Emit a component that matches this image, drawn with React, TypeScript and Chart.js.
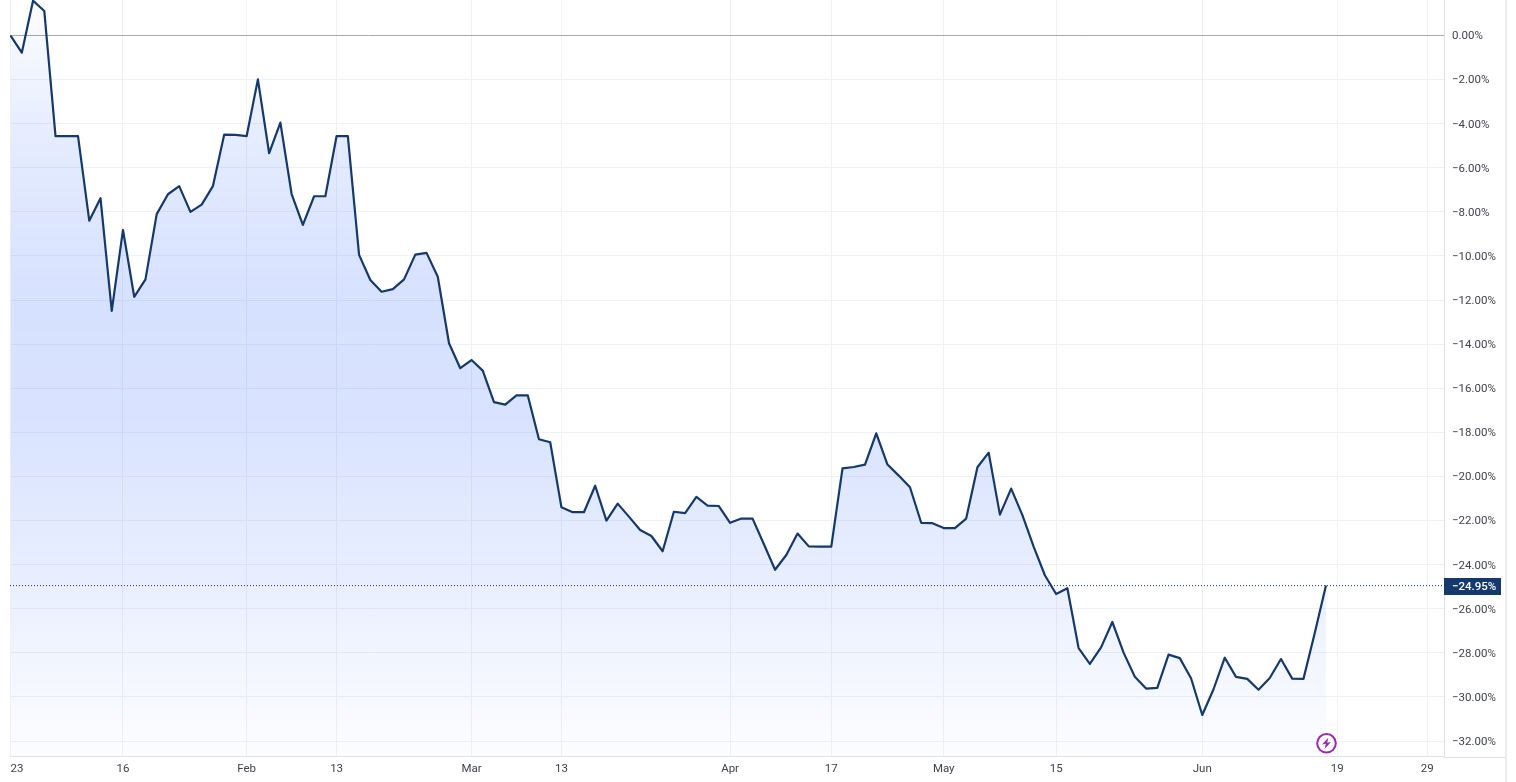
import React, { useEffect, useRef } from "react";
import { Chart, registerables } from "chart.js";

Chart.register(...registerables);

const returnsPct = [
  0, -0.78, 1.58, 1.11, -4.56, -4.56, -4.56, -8.4, -7.38, -12.49,
  -8.82, -11.85, -11.06, -8.1, -7.2, -6.83, -8.0, -7.67, -6.83, -4.5,
  -4.51, -4.56, -1.99, -5.34, -3.95, -7.19, -8.59, -7.29, -7.29, -4.56,
  -4.56, -9.95, -11.09, -11.62, -11.5, -11.06, -9.94, -9.86, -10.94, -13.96,
  -15.09, -14.72, -15.2, -16.63, -16.74, -16.32, -16.32, -18.31, -18.45, -21.4,
  -21.62, -21.62, -20.42, -22.0, -21.23, -21.82, -22.43, -22.7, -23.39, -21.6,
  -21.66, -20.93, -21.32, -21.34, -22.1, -21.91, -21.91, -23.06, -24.23, -23.56,
  -22.59, -23.17, -23.18, -23.18, -19.63, -19.57, -19.46, -18.04, -19.46, -19.96,
  -20.49, -22.1, -22.12, -22.34, -22.34, -21.91, -19.58, -18.92, -21.73, -20.55,
  -21.75, -23.18, -24.48, -25.33, -25.07, -27.78, -28.5, -27.75, -26.6, -27.99,
  -29.08, -29.62, -29.59, -28.08, -28.24, -29.15, -30.82, -29.65, -28.22, -29.09,
  -29.18, -29.67, -29.14, -28.28, -29.17, -29.18, -27.11, -24.95,
];

const xTickIndex = [0, 10, 21, 29, 41, 49, 64, 73, 83, 93, 106, 118, 126, 127.5];
const xTickLabels = ["23", "16", "Feb", "13", "Mar", "13", "Apr", "17", "May", "15", "Jun", "19", "29", ""];
const yTicks = [0, -2, -4, -6, -8, -10, -12, -14, -16, -18, -20, -22, -24, -26, -28, -30, -32];
const lastValue = -24.95;
const eventMarker = { x: 117.05, y: -32.1 };

const FONT = "Roboto, 'Open Sans', sans-serif";
const NAVY = "#13396f";
const GRID = "#f0f1f5";
const AXIS = "#e0e1e6";
const TEXT = "#3f424c";

const fmt = (v: number) => `${v < 0 ? "\u2212" : ""}${Math.abs(v).toFixed(2)}%`;

const overlay = {
  id: "overlay",
  afterDatasetsDraw(chart: any) {
    const { ctx, scales, chartArea, width } = chart;
    const y = scales.y.getPixelForValue(lastValue);
    ctx.save();
    // outer frame of the price axis
    ctx.fillStyle = "#ececef";
    ctx.fillRect(width - 11, 0, 2, chart.height);
    ctx.fillStyle = AXIS;
    ctx.fillRect(chartArea.right, Math.round(chartArea.bottom), width - 11 - chartArea.right, 1);
    // last value label
    ctx.fillStyle = NAVY;
    ctx.fillRect(chartArea.right, Math.round(y) - 8, 57, 17);
    ctx.fillStyle = "#ffffff";
    ctx.font = `500 11.5px ${FONT}`;
    ctx.textAlign = "left";
    ctx.textBaseline = "middle";
    ctx.fillText(fmt(lastValue), chartArea.right + 8, Math.round(y) + 1);
    // event marker
    const px = scales.x.getPixelForValue(eventMarker.x);
    const py = scales.y.getPixelForValue(eventMarker.y);
    ctx.beginPath();
    ctx.arc(px, py, 9.3, 0, Math.PI * 2);
    ctx.fillStyle = "#ffffff";
    ctx.fill();
    ctx.lineWidth = 2;
    ctx.strokeStyle = "#9c27b0";
    ctx.stroke();
    ctx.fillStyle = "#9c27b0";
    ctx.beginPath();
    ctx.moveTo(px + 1.8, py - 5.5);
    ctx.lineTo(px - 4.5, py + 1.2);
    ctx.lineTo(px - 0.7, py + 0.6);
    ctx.lineTo(px - 1.8, py + 5.5);
    ctx.lineTo(px + 4.5, py - 1.2);
    ctx.lineTo(px + 0.7, py - 0.6);
    ctx.closePath();
    ctx.fill();
    ctx.restore();
  },
};

const noPadding = (s: any) => {
  s.paddingTop = 0;
  s.paddingBottom = 0;
  s.paddingLeft = 0;
  s.paddingRight = 0;
};

export default function App() {
  const ref = useRef<HTMLCanvasElement>(null);
  useEffect(() => {
    const chart = new Chart(ref.current as HTMLCanvasElement, {
      type: "line",
      plugins: [overlay],
      data: {
        datasets: [
          {
            data: [
              { x: -0.05, y: lastValue },
              { x: 127.5, y: lastValue },
            ],
            borderColor: NAVY,
            borderWidth: 1,
            borderDash: [1, 2],
            pointRadius: 0,
          },
          {
            data: returnsPct.map((v, i) => ({ x: i, y: v })),
            borderColor: NAVY,
            borderWidth: 2.2,
            borderJoinStyle: "round",
            pointRadius: 0,
            tension: 0,
            fill: "start",
            backgroundColor: (c: any) => {
              const a = c.chart.chartArea;
              if (!a) return "transparent";
              const g = c.chart.ctx.createLinearGradient(0, 0, 0, a.bottom);
              g.addColorStop(0, "rgba(41,98,255,0.01)");
              g.addColorStop(0.2, "rgba(41,98,255,0.13)");
              g.addColorStop(0.4, "rgba(41,98,255,0.19)");
              g.addColorStop(0.55, "rgba(41,98,255,0.18)");
              g.addColorStop(0.75, "rgba(41,98,255,0.11)");
              g.addColorStop(1, "rgba(41,98,255,0.01)");
              return g;
            },
          },
        ],
      },
      options: {
        responsive: false,
        animation: false,
        devicePixelRatio: 1,
        layout: { padding: { left: 10, top: 0, right: 0, bottom: 0 } },
        plugins: { legend: { display: false }, tooltip: { enabled: false } },
        scales: {
          x: {
            type: "linear",
            min: -0.05,
            max: 127.5,
            afterBuildTicks: (s: any) => {
              s.ticks = xTickIndex.map((value) => ({ value }));
            },
            afterFit: (s: any) => {
              s.height = 25.5;
              noPadding(s);
            },
            border: { display: true, color: AXIS },
            grid: { color: GRID, drawTicks: false },
            ticks: {
              autoSkip: false,
              maxRotation: 0,
              align: "inner",
              padding: 6,
              color: TEXT,
              font: { family: FONT, size: 11.5 },
              callback: (v: any) => xTickLabels[xTickIndex.indexOf(Number(v))] ?? "",
            },
          },
          y: {
            type: "linear",
            position: "right",
            min: -32.7,
            max: 1.61,
            afterBuildTicks: (s: any) => {
              s.ticks = yTicks.map((value) => ({ value }));
            },
            afterFit: (s: any) => {
              s.width = 72;
              noPadding(s);
            },
            border: { display: true, color: AXIS },
            grid: {
              drawTicks: false,
              color: (c: any) => (c.tick && c.tick.value === 0 ? "#a9a9ae" : GRID),
            },
            ticks: {
              padding: 8,
              labelOffset: 1,
              color: TEXT,
              font: { family: FONT, size: 11.5 },
              callback: (v: any) => fmt(Number(v)),
            },
          },
        },
      },
    } as any);
    return () => chart.destroy();
  }, []);
  return (
    <div style={{ position: "fixed", left: 0, top: 0, width: 1516, height: 782, background: "#fff" }}>
      <canvas ref={ref} width={1516} height={782} style={{ display: "block" }} />
    </div>
  );
}
